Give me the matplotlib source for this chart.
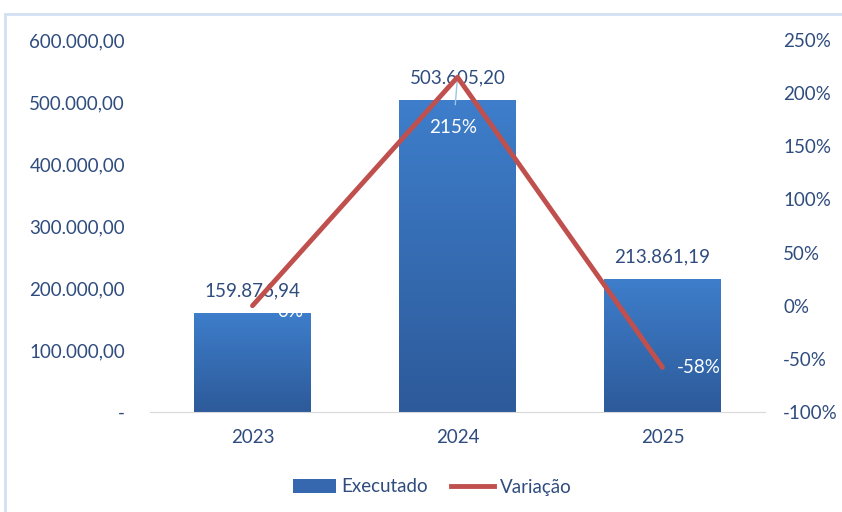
import matplotlib.pyplot as plt
import matplotlib.patches as mpatches
import matplotlib.lines as mlines
from matplotlib.colors import LinearSegmentedColormap
import numpy as np

years = ["2023", "2024", "2025"]
executado = [159876.94, 503605.20, 213861.19]
variacao = [0, 215, -58]
exec_labels = ["159.876,94", "503.605,20", "213.861,19"]
var_labels = ["0%", "215%", "-58%"]

txt_color = "#2F4C7E"
line_color = "#C0504D"
fs = 13.5
plt.rcParams['font.family'] = ['Lato', 'DejaVu Sans']

fig = plt.figure(figsize=(8.42, 5.12), dpi=100)
W, H = 842, 512
ax = fig.add_axes([150 / W, 1 - 412 / H, 615 / W, 372 / H])
ax2 = ax.twinx()

# light frame of the chart area
fig.patches.append(mpatches.Rectangle((5 / W, -0.05), 1.1, 1 - 14 / H + 0.05, transform=fig.transFigure,
                                      fill=False, edgecolor="#D2E0F2", lw=2))

x = np.arange(len(years))
bw = 0.57
grad = np.linspace(0, 1, 256).reshape(-1, 1)
cmap = LinearSegmentedColormap.from_list("g", ["#2D5A9A", "#3E7ECB"])
bars = ax.bar(x, executado, width=bw, color="none", zorder=2)
for b in bars:
    bx, by = b.get_x(), b.get_y()
    im = ax.imshow(grad, cmap=cmap, origin="lower", aspect="auto",
                   extent=[bx, bx + b.get_width(), by, by + b.get_height()], zorder=2)
    im.set_clip_path(b)
ax.set_xlim(-0.5, 2.5)
ax.set_ylim(0, 600000)

ax.set_yticks(np.arange(0, 600001, 100000))
ax.set_yticklabels(["-"] + [f"{v:,.2f}".replace(",", "X").replace(".", ",").replace("X", ".")
                           for v in range(100000, 600001, 100000)])
ax.set_xticks(x)
ax.set_xticklabels(years)

for i, v in enumerate(executado):
    ax.text(x[i], v + 22000, exec_labels[i], ha="center", va="bottom", fontsize=fs, color=txt_color, zorder=5)

ax2.set_ylim(-100, 250)
ax2.set_yticks(np.arange(-100, 251, 50))
ax2.set_yticklabels([f"{v}%" for v in range(-100, 251, 50)])
ax2.plot(x, variacao, color=line_color, lw=3.5, solid_capstyle="round", zorder=4)

# white variation labels (the 0% one sits mostly over the white background, as in the source)
ax2.text(x[0] + 0.12, variacao[0] - 5, var_labels[0], ha="left", va="center", fontsize=fs, color="white")
ax2.annotate(var_labels[1], xy=(x[1], variacao[1]), xytext=(x[1] - 0.02, 168), ha="center", va="center",
             fontsize=fs, color="white",
             arrowprops=dict(arrowstyle="-", color="#9DC3E6", lw=1, shrinkA=8, shrinkB=2))
ax2.text(x[2] + 0.07, variacao[2], var_labels[2], ha="left", va="center", fontsize=fs, color="white")

for a in (ax, ax2):
    for s in a.spines.values():
        s.set_visible(False)
    a.tick_params(length=0, labelsize=fs, labelcolor=txt_color)
ax.spines["bottom"].set_visible(True)
ax.spines["bottom"].set_color("#D9D9D9")
ax.tick_params(axis="y", pad=18)
ax.tick_params(axis="x", pad=12)
ax2.tick_params(axis="y", pad=13)

h1 = mpatches.Patch(facecolor="#3568AE", edgecolor="none")
h2 = mlines.Line2D([], [], color=line_color, lw=3.5)
fig.legend([h1, h2], ["Executado", "Variação"], loc="center", bbox_to_anchor=(432 / W, 1 - 487 / H),
           ncol=2, frameon=False, fontsize=fs, labelcolor=txt_color, handlelength=2.3,
           handletextpad=0.3, columnspacing=1.2)

fig.savefig("out.png", dpi=100)
